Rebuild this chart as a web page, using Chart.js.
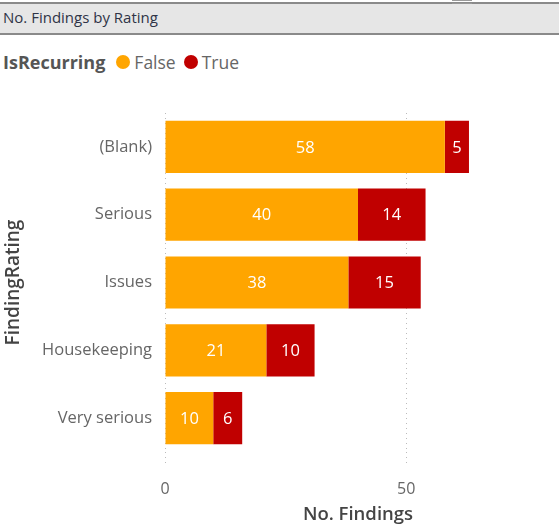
<!DOCTYPE html>
<html>
<head>
<meta charset="utf-8">
<script src="https://cdn.jsdelivr.net/npm/chart.js@4"></script>
<style>
  body { margin: 0; width: 559px; height: 526px; background: #fff; overflow: hidden; font-family: "Open Sans", "Noto Sans", sans-serif; position: relative; }
  .header { position: absolute; left: 0; top: 2px; width: 559px; height: 29px; background: #e6e6e6; border-top: 2px solid #8a8a8a; border-bottom: 2px solid #8a8a8a; }
  .header span { position: absolute; left: 3px; top: 3px; font-size: 15px; color: #2f3447; }
  .grip { position: absolute; top: 0; width: 20px; height: 2px; border-top: 1px solid #999; border-bottom: 1px solid #999; }
  .legend { position: absolute; left: 3px; top: 50px; font-size: 17.5px; color: #666; display: flex; align-items: center; white-space: nowrap; }
  .legend b { color: #555; font-size: 18px; margin-right: 11px; }
  .dot { display: inline-block; width: 14px; height: 14px; border-radius: 50%; margin-right: 4px; }
  .legend .item { display: flex; align-items: center; margin-right: 8px; }
  #wrap { position: absolute; left: 0; top: 80px; width: 559px; height: 446px; }
</style>
</head>
<body>
<div class="header"><span>No. Findings by Rating</span></div>
<div class="grip" style="left:452px"></div>
<div class="legend">
  <b>IsRecurring</b>
  <span class="item"><span class="dot" style="background:#FFA500"></span>False</span>
  <span class="item"><span class="dot" style="background:#C00000"></span>True</span>
</div>
<div id="wrap"><canvas id="chart"></canvas></div>
<script>
const ratings = ['(Blank)', 'Serious', 'Issues', 'Housekeeping', 'Very serious']
const falseCounts = [58, 40, 38, 21, 10]
const trueCounts = [5, 14, 15, 10, 6]
const xTicks = [0, 50]

const barLabels = {
    id: 'barLabels',
    afterDatasetsDraw(chart) {
        const ctx = chart.ctx
        ctx.save()
        ctx.fillStyle = '#fff'
        ctx.font = '16.5px "Open Sans", sans-serif'
        ctx.textAlign = 'center'
        ctx.textBaseline = 'middle'
        chart.data.datasets.forEach((ds, i) => {
            chart.getDatasetMeta(i).data.forEach((bar, j) => {
                const p = bar.getProps(['x', 'y', 'base'], true)
                ctx.fillText(ds.data[j], (p.x + p.base) / 2, p.y + 1)
            })
        })
        ctx.restore()
    }
}

new Chart(document.getElementById('chart'), {
    type: 'bar',
    data: {
        labels: ratings,
        datasets: [
            { label: 'False', data: falseCounts, backgroundColor: '#FFA500', barPercentage: 0.77, categoryPercentage: 1 },
            { label: 'True', data: trueCounts, backgroundColor: '#C00000', barPercentage: 0.77, categoryPercentage: 1 }
        ]
    },
    options: {
        indexAxis: 'y',
        responsive: true,
        maintainAspectRatio: false,
        animation: false,
        layout: { padding: { top: 33, right: 8, left: 0, bottom: 0 } },
        plugins: { legend: { display: false }, tooltip: { enabled: false } },
        scales: {
            x: {
                stacked: true,
                min: 0,
                max: 80,
                border: { display: false, dash: [1, 4] },
                afterBuildTicks: s => { s.ticks = xTicks.map(v => ({ value: v })) },
                afterFit: s => { s.height = 74 },
                grid: { color: '#bbb', lineWidth: 1, tickLength: 13, tickBorderDash: [1, 4] },
                ticks: { color: '#666', padding: 15, font: { family: '"Open Sans", sans-serif', size: 16 } },
                title: { display: true, text: 'No. Findings', color: '#444', padding: { top: 0, bottom: 0 }, font: { family: '"Open Sans", sans-serif', size: 18.5, weight: '600' } }
            },
            y: {
                stacked: true,
                border: { display: false },
                afterFit: s => { s.width = 165 },
                grid: { display: false, drawTicks: false },
                ticks: { color: '#666', padding: 13, font: { family: '"Open Sans", sans-serif', size: 16.5 } },
                title: { display: true, text: 'FindingRating', color: '#444', padding: 2, font: { family: '"Open Sans", sans-serif', size: 19, weight: '600' } }
            }
        }
    },
    plugins: [barLabels]
})
</script>
</body>
</html>
